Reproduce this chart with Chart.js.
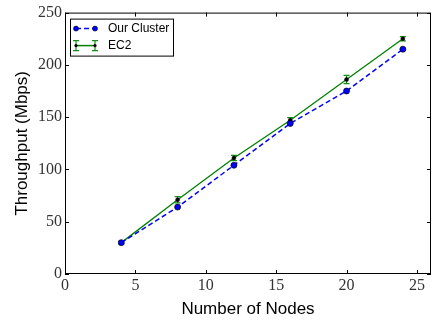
<!DOCTYPE html>
<html lang="en">
<head>
<meta charset="UTF-8">
<script src="https://cdn.jsdelivr.net/npm/chart.js@4.4.0/dist/chart.umd.min.js"></script>
<style>
  html, body { margin: 0; padding: 0; background: #fff; }
  #wrap { width: 443px; height: 320px; }
</style>
</head>
<body>
<div id="wrap"><canvas id="chart"></canvas></div>
<script>
  var nodes = [4, 8, 12, 16, 20, 24]
  var ourCluster = [30, 64, 104, 144, 175, 215]
  var ec2 = [30, 71, 111, 147, 186, 225]
  var ec2Err = [1.5, 3, 2.5, 2.5, 4, 2]
  var xTicks = [0, 5, 10, 15, 20, 25]
  var yTicks = [0, 50, 100, 150, 200, 250]

  var serif = '"Liberation Serif", "DejaVu Serif", serif'
  var sans = '"Liberation Sans", Arial, sans-serif'

  // error bars, inward ticks, frame and legend box
  var extras = {
    id: 'extras',
    beforeDatasetsDraw: function (chart) {
      var ctx = chart.ctx, xs = chart.scales.x, ys = chart.scales.y
      ctx.save()
      ctx.strokeStyle = '#1a8a1a'
      ctx.lineWidth = 1.2
      for (var i = 0; i < nodes.length; i++) {
        var px = xs.getPixelForValue(nodes[i])
        var top = ys.getPixelForValue(ec2[i] + ec2Err[i])
        var bot = ys.getPixelForValue(ec2[i] - ec2Err[i])
        ctx.beginPath()
        ctx.moveTo(px, top); ctx.lineTo(px, bot)
        ctx.moveTo(px - 3, top); ctx.lineTo(px + 3, top)
        ctx.moveTo(px - 3, bot); ctx.lineTo(px + 3, bot)
        ctx.stroke()
      }
      ctx.restore()
    },
    afterDraw: function (chart) {
      var ctx = chart.ctx, a = chart.chartArea
      var xs = chart.scales.x, ys = chart.scales.y
      ctx.save()
      ctx.strokeStyle = '#000'
      ctx.lineWidth = 1
      ctx.strokeRect(a.left + 0.5, a.top + 0.5, a.right - a.left - 1, a.bottom - a.top - 1)
      ctx.beginPath()
      xTicks.forEach(function (v) {
        var p = Math.round(xs.getPixelForValue(v)) + 0.5
        ctx.moveTo(p, a.bottom); ctx.lineTo(p, a.bottom - 4)
        ctx.moveTo(p, a.top); ctx.lineTo(p, a.top + 4)
      })
      yTicks.forEach(function (v) {
        var p = Math.round(ys.getPixelForValue(v)) + 0.5
        ctx.moveTo(a.left, p); ctx.lineTo(a.left + 4, p)
        ctx.moveTo(a.right, p); ctx.lineTo(a.right - 4, p)
      })
      ctx.stroke()

      // legend
      var lx = a.left + 5, ly = a.top + 6, lw = 103, lh = 37
      ctx.fillStyle = '#fff'
      ctx.fillRect(lx, ly, lw, lh)
      ctx.strokeRect(lx + 0.5, ly + 0.5, lw, lh)
      var y1 = ly + 10, y2 = ly + 27
      var x0 = lx + 6, x1 = lx + 25
      ctx.strokeStyle = '#0000ff'
      ctx.lineWidth = 1.5
      ctx.setLineDash([5, 3])
      ctx.beginPath(); ctx.moveTo(x0, y1); ctx.lineTo(x1, y1); ctx.stroke()
      ctx.setLineDash([])
      ;[x0, x1].forEach(function (x) {
        ctx.beginPath(); ctx.arc(x, y1, 2.5, 0, Math.PI * 2)
        ctx.fillStyle = '#0000ff'; ctx.fill()
        ctx.strokeStyle = '#000'; ctx.lineWidth = 0.6; ctx.stroke()
      })
      ctx.strokeStyle = '#008000'
      ctx.lineWidth = 1.5
      ctx.beginPath(); ctx.moveTo(x0, y2); ctx.lineTo(x1, y2); ctx.stroke()
      ctx.strokeStyle = '#1a8a1a'; ctx.lineWidth = 1.2
      ;[x0, x1].forEach(function (x) {
        ctx.beginPath()
        ctx.moveTo(x, y2 - 5); ctx.lineTo(x, y2 + 5)
        ctx.moveTo(x - 3, y2 - 5); ctx.lineTo(x + 3, y2 - 5)
        ctx.moveTo(x - 3, y2 + 5); ctx.lineTo(x + 3, y2 + 5)
        ctx.stroke()
        ctx.beginPath(); ctx.arc(x, y2, 1.6, 0, Math.PI * 2)
        ctx.fillStyle = '#000'; ctx.fill()
      })
      ctx.fillStyle = '#000'
      ctx.font = '12px ' + sans
      ctx.textBaseline = 'middle'
      ctx.fillText('Our Cluster', lx + 38, y1)
      ctx.fillText('EC2', lx + 38, y2)
      ctx.restore()
    }
  }

  new Chart(document.getElementById('chart'), {
    type: 'line',
    data: {
      datasets: [{
        label: 'Our Cluster',
        data: nodes.map(function (n, i) { return { x: n, y: ourCluster[i] } }),
        borderColor: '#0000ff',
        borderWidth: 1.5,
        borderDash: [5, 3],
        pointRadius: 3,
        pointBackgroundColor: '#0000ff',
        pointBorderColor: '#000',
        pointBorderWidth: 0.7,
        fill: false,
        tension: 0
      }, {
        label: 'EC2',
        data: nodes.map(function (n, i) { return { x: n, y: ec2[i] } }),
        borderColor: '#008000',
        borderWidth: 1.3,
        pointRadius: 2,
        pointBackgroundColor: '#000',
        pointBorderColor: '#000',
        pointBorderWidth: 0.5,
        fill: false,
        tension: 0
      }]
    },
    options: {
      responsive: true,
      maintainAspectRatio: false,
      animation: false,
      layout: { padding: { top: 8, right: 12, left: 7, bottom: 0 } },
      plugins: { legend: { display: false }, tooltip: { enabled: false } },
      scales: {
        x: {
          type: 'linear', min: 0, max: 26,
          afterBuildTicks: function (s) { s.ticks = xTicks.map(function (v) { return { value: v } }) },
          afterFit: function (s) { s.height = 46 },
          grid: { display: false, drawTicks: false },
          border: { display: false },
          ticks: { color: '#333', padding: 2, font: { family: serif, size: 16 } },
          title: { display: true, text: 'Number of Nodes', color: '#000', padding: { top: 0, bottom: 0 }, font: { family: sans, size: 17 } }
        },
        y: {
          type: 'linear', min: 0, max: 250,
          afterBuildTicks: function (s) { s.ticks = yTicks.map(function (v) { return { value: v } }) },
          afterFit: function (s) { s.width = 58 },
          grid: { display: false, drawTicks: false },
          border: { display: false },
          ticks: { color: '#333', padding: 3, font: { family: serif, size: 16 } },
          title: { display: true, text: 'Throughput (Mbps)', color: '#000', padding: { top: 5, bottom: 0 }, font: { family: sans, size: 17 } }
        }
      }
    },
    plugins: [extras]
  })
</script>
</body>
</html>
